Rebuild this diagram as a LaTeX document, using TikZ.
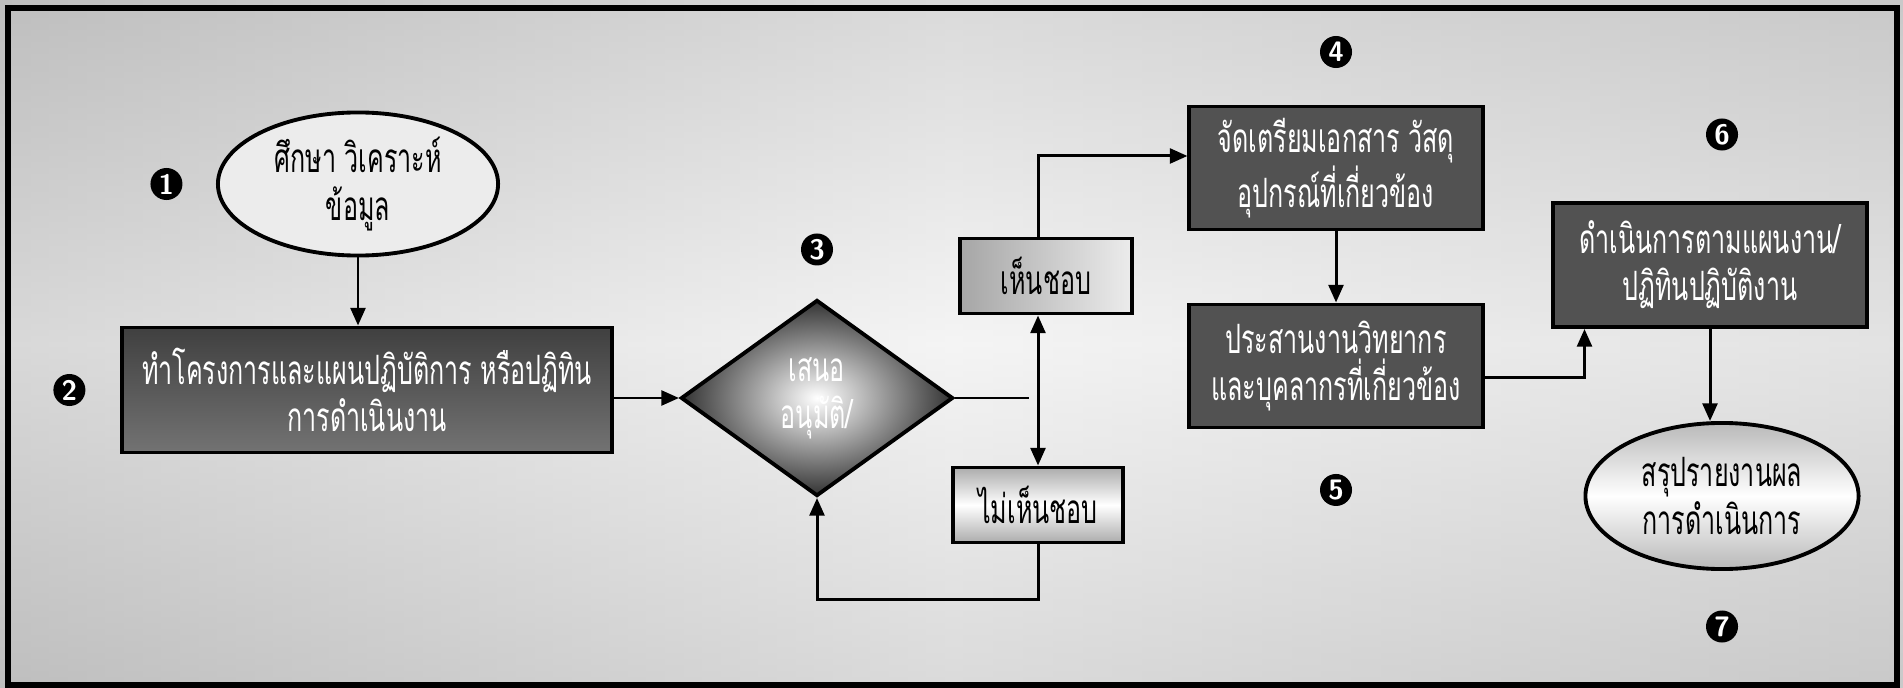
\documentclass[tikz,border=0pt]{standalone}
\usepackage{fontspec}
\newfontfamily\thaifont[Script=Thai,FakeStretch=0.62]{Loma}
\usetikzlibrary{positioning,shapes.geometric,arrows.meta}
\begin{document}
\begin{tikzpicture}[x=0.01cm, y=-0.01cm, >={Triangle[length=5pt,width=4.2pt]},
  main/.style = {draw, line width=1.1pt, align=center, inner sep=1pt, font=\thaifont\fontsize{11.5}{13.4}\selectfont},
  box/.style = {main, rectangle, text=white, fill=black!68},
  pill/.style = {main, ellipse},
  num/.style = {circle, fill=black, text=white, inner sep=0pt, minimum size=0.32cm, font=\sffamily\bfseries\footnotesize},
  every path/.style = {line width=0.85pt}]
\useasboundingbox (0,0) rectangle (1903,688);
\shade[left color=gray!55, right color=gray!40, middle color=gray!15] (0,0) rectangle (1903,688);
\shade[top color=gray!45, bottom color=gray!45, middle color=white, opacity=0.45] (0,0) rectangle (1903,688);
\draw[line width=1.5pt] (8,8) rectangle (1897,685);
\node[pill, fill=gray!15, minimum width=2.8cm, minimum height=1.43cm] (1) at (358,184) {ศึกษา วิเคราะห์\\ข้อมูล};
\node[box, top color=black!75, bottom color=black!55, minimum width=4.9cm, minimum height=1.25cm] (2) at (367,390) {ทำโครงการและแผนปฏิบัติการ หรือปฏิทิน\\การดำเนินงาน};
\node[main, diamond, text=white, inner color=white, outer color=black!80, minimum width=2.72cm, minimum height=1.96cm, inner sep=0pt] (3) at (817,398) {เสนอ\\อนุมัติ/};
\node[main, left color=gray!70, right color=gray!15, minimum width=1.72cm, minimum height=0.75cm] (yes) at (1046,276) {เห็นชอบ};
\node[main, top color=gray!65, bottom color=gray!65, middle color=white, minimum width=1.7cm, minimum height=0.75cm] (no) at (1038,505) {ไม่เห็นชอบ};
\node[box, minimum width=2.93cm, minimum height=1.23cm] (4) at (1336,168) {จัดเตรียมเอกสาร วัสดุ\\อุปกรณ์ที่เกี่ยวข้อง};
\node[box, minimum width=2.93cm, minimum height=1.23cm] (5) [below=0.71cm of 4] {ประสานงานวิทยากร\\และบุคลากรที่เกี่ยวข้อง};
\node[box, minimum width=3.13cm, minimum height=1.24cm] (6) at (1710,265) {ดำเนินการตามแผนงาน/\\ปฏิทินปฏิบัติงาน};
\node[pill, top color=gray!55, bottom color=gray!55, middle color=white, minimum width=2.73cm, minimum height=1.46cm] (7) at (1722,496) {สรุปรายงานผล\\การดำเนินการ};
\node[num] (m1) [left=0.32cm of 1] {1};
\node[num] (m2) [left=0.33cm of 2] {2};
\node[num] (m3) [above=0.31cm of 3] {3};
\node[num] (m4) [above=0.35cm of 4] {4};
\node[num] (m5) [below=0.43cm of 5] {5};
\node[num] (m6) [above=0.49cm of 6, xshift=0.12cm] {6};
\node[num] (m7) [below=0.38cm of 7] {7};
\coordinate (j) at (1029,398);
\draw[->] (1) -- (1 |- 2.north);
\draw[->] (2.east |- 3.west) -- (3.west);
\draw (3.east) -- (j);
\draw[<->] (no.north |- yes.south) -- (no.north);
\draw[->] (no.north |- yes.north) |- ([yshift=0.12cm]4.west);
\draw[->] (no.south) -- ++(0,55) -| (3.south);
\draw[->] (4) -- (5);
\draw[->] ([yshift=-0.12cm]5.east) -| ([xshift=0.33cm]6.south west);
\draw[->] (6) -- (6 |- 7.north);
\end{tikzpicture}
\end{document}
